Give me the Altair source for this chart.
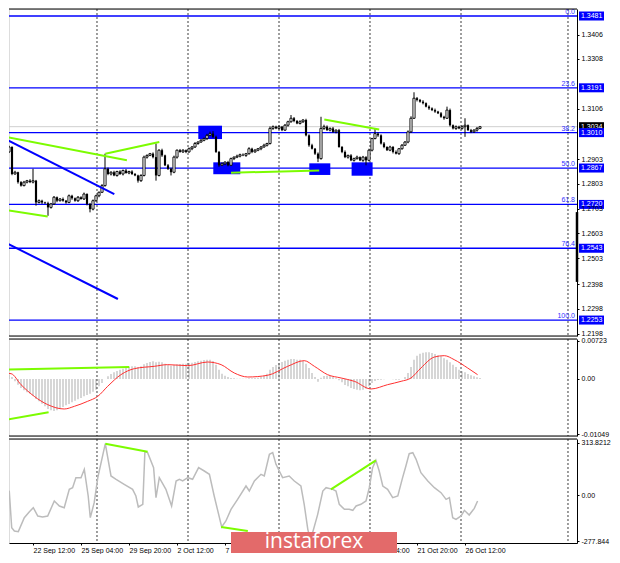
import altair as alt
import pandas as pd

# ---------------- layout ----------------
W = 568                      # plot width (px)
H1, H2, H3 = 327, 97, 104    # price / MACD / CCI panel heights
XDOM = [2, 2 + W / 3]        # visible bar-index range (3 px per bar)
FONT = "Liberation Sans"

# ---------------- data: GBPUSD H4 candles ----------------
first_open = 1.2975
closes = [
    1.2966, 1.2932, 1.2952, 1.2843, 1.2850, 1.2810, 1.2796, 1.2810, 1.2816, 1.2810,
    1.2816, 1.2728, 1.2735, 1.2728, 1.2725, 1.2708, 1.2722, 1.2749, 1.2735, 1.2742,
    1.2735, 1.2728, 1.2755, 1.2745, 1.2735, 1.2749, 1.2742, 1.2762, 1.2722, 1.2701,
    1.2735, 1.2755, 1.2769, 1.2796, 1.2864, 1.2843, 1.2850, 1.2837, 1.2853, 1.2843,
    1.2857, 1.2847, 1.2853, 1.2843, 1.2837, 1.2816, 1.2837, 1.2911, 1.2918, 1.2925,
    1.2911, 1.2837, 1.2939, 1.2918, 1.2878, 1.2864, 1.2850, 1.2911, 1.2939, 1.2932,
    1.2939, 1.2932, 1.2945, 1.2952, 1.2966, 1.2972, 1.2979, 1.2986, 1.2999, 1.3006,
    1.2993, 1.2932, 1.2878, 1.2884, 1.2891, 1.2878, 1.2905, 1.2911, 1.2915, 1.2921,
    1.2918, 1.2925, 1.2945, 1.2932, 1.2939, 1.2945, 1.2952, 1.2959, 1.2966, 1.3027,
    1.3034, 1.3027, 1.3034, 1.3020, 1.3040, 1.3054, 1.3068, 1.3057, 1.3047, 1.3054,
    1.3061, 1.2999, 1.2959, 1.2945, 1.2925, 1.2905, 1.3027, 1.3034, 1.3020, 1.3027,
    1.3013, 1.3020, 1.2952, 1.2932, 1.2911, 1.2918, 1.2898, 1.2905, 1.2911, 1.2898,
    1.2911, 1.2898, 1.2939, 1.2986, 1.3006, 1.2999, 1.2966, 1.2952, 1.2939, 1.2952,
    1.2932, 1.2925, 1.2945, 1.2959, 1.2972, 1.3013, 1.3068, 1.3149, 1.3142, 1.3135,
    1.3129, 1.3115, 1.3108, 1.3101, 1.3095, 1.3088, 1.3074, 1.3068, 1.3101, 1.3040,
    1.3027, 1.3034, 1.3027, 1.3034, 1.3040, 1.3020, 1.3013, 1.3020, 1.3027, 1.3034,
]
up_wick_pips = [
    4, 2, 5, 3, 6, 2, 4, 5, 3, 6,
    48, 3, 5, 4, 3, 6, 4, 5, 3, 4,
    6, 3, 5, 4, 3, 5, 4, 6, 3, 4,
    5, 4, 3, 6, 61, 5, 4, 6, 3, 5,
    4, 6, 3, 5, 4, 3, 5, 6, 4, 3,
    5, 55, 4, 6, 3, 5, 4, 6, 3, 5,
    4, 3, 5, 4, 6, 3, 5, 4, 6, 8,
    10, 5, 4, 6, 3, 5, 4, 3, 6, 4,
    5, 3, 6, 4, 5, 3, 4, 6, 3, 8,
    5, 4, 6, 3, 5, 4, 13, 5, 4, 6,
    3, 5, 4, 6, 3, 5, 47, 8, 5, 4,
    6, 3, 5, 4, 6, 3, 5, 4, 6, 3,
    5, 4, 6, 3, 21, 5, 4, 6, 3, 5,
    4, 6, 3, 5, 4, 6, 8, 24, 5, 4,
    6, 3, 5, 4, 6, 3, 5, 4, 14, 6,
    3, 5, 4, 6, 28, 3, 5, 4, 6, 3,
]
dn_wick_pips = [
    3, 21, 4, 5, 3, 6, 4, 3, 5, 4,
    5, 13, 4, 6, 3, 34, 5, 4, 6, 3,
    4, 5, 3, 6, 4, 5, 3, 4, 6, 13,
    5, 4, 6, 3, 4, 5, 6, 3, 5, 4,
    6, 3, 5, 4, 3, 8, 5, 4, 6, 3,
    5, 21, 4, 6, 3, 5, 13, 4, 6, 3,
    4, 5, 3, 6, 4, 5, 3, 4, 6, 3,
    5, 4, 6, 3, 5, 4, 3, 6, 4, 5,
    3, 6, 4, 5, 3, 4, 6, 3, 5, 4,
    6, 3, 5, 4, 3, 6, 4, 5, 3, 4,
    5, 4, 6, 3, 5, 14, 4, 6, 3, 5,
    4, 6, 3, 5, 4, 6, 3, 5, 4, 3,
    6, 20, 4, 5, 3, 6, 4, 5, 3, 4,
    6, 3, 5, 4, 3, 5, 4, 3, 6, 4,
    5, 3, 6, 4, 5, 3, 4, 6, 3, 5,
    4, 6, 3, 5, 41, 3, 5, 4, 6, 3,
]

# ---------------- data: MACD (values x 1e-4) ----------------
macd_hist_e4 = [
    10.1, 9.5, 8.2, 3.8, -4.4, -10.8, -17.1, -21.6, -25.4, -27.9,
    -31.7, -38.0, -42.5, -46.9, -52.0, -57.1, -59.6, -60.9, -59.6, -57.1,
    -53.3, -50.1, -47.6, -44.4, -41.2, -38.7, -36.1, -33.0, -30.4, -27.9,
    -24.1, -20.3, -13.9, -7.6, 0.0, 5.1, 9.5, 12.7, 15.2, 17.8,
    19.7, 20.9, 22.8, 24.1, 24.1, 22.8, 24.1, 27.9, 30.4, 32.3,
    33.6, 31.7, 33.0, 31.7, 29.2, 26.6, 25.4, 26.6, 27.9, 28.5,
    29.2, 29.2, 30.4, 31.1, 32.3, 33.6, 34.9, 36.1, 36.8, 36.8,
    34.2, 27.3, 17.8, 10.1, 6.3, 3.8, 1.9, 1.3, 0.6, 0.6,
    0.6, 0.6, 1.3, 1.3, 1.9, 2.5, 3.8, 6.3, 10.1, 17.8,
    22.8, 26.6, 30.4, 32.3, 34.9, 36.8, 38.0, 38.0, 36.8, 36.8,
    34.2, 29.2, 20.9, 11.4, 3.8, -5.1, 2.5, 5.7, 6.3, 5.7,
    3.8, 1.3, -2.5, -6.3, -11.4, -13.9, -17.1, -19.0, -20.3, -21.6,
    -20.3, -18.4, -13.9, -7.6, -3.8, -1.9, -1.3, -0.6, 0.0, 0.0,
    -0.6, -1.3, -1.3, 0.0, 3.8, 11.4, 22.8, 36.8, 44.4, 48.2,
    50.1, 50.7, 50.7, 49.5, 47.6, 45.0, 43.1, 39.3, 36.8, 31.7,
    27.3, 22.8, 17.8, 14.6, 12.7, 9.5, 7.0, 5.1, 3.2, 1.9,
]
signal_bar = [0, 2.7, 6.0, 10.4, 14.9, 20.4, 23.8, 28.2, 31.6, 34.9,
              39.3, 43.8, 50.4, 54.9, 61.6, 68.2, 72.7, 77.1, 81.6, 88.2,
              94.9, 100.4, 103.8, 108.2, 112.7, 117.1, 122.7, 128.2, 132.7, 136.0,
              139.3, 143.8, 147.1, 150.4, 154.9, 158.2]
signal_e4 = [11.4, 10.1, -10.8, -33.0, -48.8, -57.1, -52.0, -42.5, -33.0, -13.9,
             8.2, 19.7, 24.1, 27.3, 25.4, 32.3, 27.3, 11.4, 3.8, 7.0,
             24.1, 34.9, 24.1, 8.2, 1.9, -4.4, -19.0, -10.8, -4.4, 1.9,
             20.9, 41.8, 44.4, 36.8, 20.9, 8.2]

# ---------------- data: CCI ----------------
cci_bar = [-0.7, 0.2, 1.6, 2.1, 2.9, 3.8, 5.1, 7.1, 8.8, 10.1,
           11.6, 13.2, 14.9, 17.1, 18.8, 20.4, 22.1, 23.2, 24.3, 26.0,
           27.1, 28.4, 29.1, 30.4, 31.6, 34.1, 36.0, 37.7, 40.4, 43.2,
           44.3, 45.1, 46.6, 47.3, 48.2, 50.2, 51.0, 52.1, 54.3, 56.2,
           57.7, 58.8, 59.9, 61.6, 63.2, 65.2, 67.1, 68.8, 70.4, 72.9,
           74.3, 76.0, 78.2, 81.0, 82.1, 83.8, 86.0, 87.1, 88.8, 89.9,
           91.0, 92.1, 93.2, 95.4, 97.1, 99.3, 100.4, 101.6, 102.3, 103.2,
           104.9, 106.6, 107.7, 109.9, 111.0, 112.1, 113.8, 115.4, 116.6, 117.7,
           119.3, 121.0, 122.1, 123.2, 124.3, 125.4, 126.6, 128.2, 129.9, 131.6,
           133.2, 134.3, 135.4, 136.6, 137.7, 139.3, 141.6, 143.8, 146.0, 147.7,
           148.8, 149.9, 151.0, 152.7, 153.8, 155.4, 157.1, 158.2]
cci_val = [-16, -96, 14, 20, -196, -216, -220, -136, -100, -76,
           -126, -132, -126, -36, -66, -76, 34, 44, 104, 104,
           154, -6, -136, -46, 104, 308, 114, 94, 64, 34,
           -6, -72, -56, 260, 254, 164, -16, 104, 34, -66,
           84, 94, 84, 104, 94, 164, 144, 124, -6, -192,
           -156, -86, -26, 54, 24, 84, 124, 114, 244, 254,
           184, 144, 104, 114, 84, 54, -56, -206, -256, -226,
           -116, 24, 44, 34, 24, -56, -86, -86, -92, -66,
           -56, -36, 44, 164, 208, 144, 54, 34, -16, -6,
           104, 174, 248, 254, 214, 134, 84, 44, 14, -26,
           -16, -136, -146, -126, -92, -120, -80, -36]

# ---------------- levels, ticks, drawings ----------------
fib_prices = [1.3481, 1.3191, 1.3010, 1.2867, 1.2720, 1.2543, 1.2253]
fib_names = ["0.0", "23.6", "38.2", "50.0", "61.8", "76.4", "100.0"]
price_ticks = [1.3406, 1.3308, 1.3106, 1.2903, 1.2803, 1.2703,
               1.2603, 1.2503, 1.2398, 1.2298, 1.2198]
current_price = 1.3034
range_marker = (1.2689, 1.2407)
macd_ticks = [0.00723, 0.0, -0.01049]
cci_ticks = [313.8212, 0.0, -277.844]

grid_bars = [1.0, 31.33, 61.67, 92.0, 122.33, 152.67, 188.33]
time_bars = [10, 26, 42, 58, 74, 122, 138, 154]
time_labels = ["22 Sep 12:00", "25 Sep 04:00", "29 Sep 20:00", "2 Oct 12:00",
               "7 Oct 04:00", "19 Oct 04:00", "21 Oct 20:00", "26 Oct 12:00"]

green_main = [((-0.67, 1.2997), (41.3, 1.2898)),
              ((34.1, 1.2925), (52.1, 1.2972)),
              ((-0.67, 1.2701), (14.9, 1.2671)),
              ((76.0, 1.2848), (105.4, 1.2857)),
              ((107.1, 1.3063), (125.4, 1.3023))]
blue_main = [((-0.67, 1.2993), (37.1, 1.2762)),
             ((-0.67, 1.2575), (38.3, 1.2338))]
zones = [(65.1, 73.0, 1.3038, 1.2984),
         (70.1, 79.1, 1.2890, 1.2842),
         (102.1, 109.1, 1.2886, 1.2839),
         (116.2, 123.2, 1.2890, 1.2836)]
green_macd = [((-0.67, 0.00178), (42.1, 0.00228)),
              ((-0.67, -0.00793), (15.2, -0.00634))]
green_cci = [((34.1, 308), (48.2, 260)),
             ((109.3, 34), (124.3, 208)),
             ((72.7, -192), (81.6, -216))]

# ---------------- frames ----------------
opens = [first_open] + closes[:-1]
candles = pd.DataFrame({
    "i": list(range(len(closes))),
    "o": opens,
    "c": closes,
    "hi": [max(o, c) + u * 1e-4 for o, c, u in zip(opens, closes, up_wick_pips)],
    "lo": [min(o, c) - d * 1e-4 for o, c, d in zip(opens, closes, dn_wick_pips)],
})
candles["b0"] = candles["i"] - 0.36
candles["b1"] = candles["i"] + 0.36
bull = candles[candles["c"] >= candles["o"]]
bear = candles[candles["c"] < candles["o"]]


def seg_df(segs):
    rows = []
    for k, (a, b) in enumerate(segs):
        rows.append({"seg": k, "i": a[0], "v": a[1]})
        rows.append({"seg": k, "i": b[0], "v": b[1]})
    return pd.DataFrame(rows)


grid_df = pd.DataFrame({"g": grid_bars})
fib_df = pd.DataFrame({"p": fib_prices, "name": fib_names,
                       "lab": [f"{p:.4f}" for p in fib_prices]})
cur_df = pd.DataFrame({"p": [current_price], "lab": [f"{current_price:.4f}"]})
zone_df = pd.DataFrame(zones, columns=["x0", "x1", "y0", "y1"])
rng_df = pd.DataFrame({"a": [range_marker[0]], "b": [range_marker[1]]})
macd_df = pd.DataFrame({"i": list(range(len(macd_hist_e4))),
                        "h": [v * 1e-4 for v in macd_hist_e4]})
macd_df["z"] = 0.0
sig_df = pd.DataFrame({"i": signal_bar, "v": [v * 1e-4 for v in signal_e4]})
cci_df = pd.DataFrame({"i": cci_bar, "v": cci_val})
one = pd.DataFrame({"k": [0]})

# ---------------- scales & axes ----------------
xs = alt.Scale(domain=XDOM, nice=False, zero=False)
ys_main = alt.Scale(domain=[1.21886, 1.35093], nice=False, zero=False)
ys_macd = alt.Scale(domain=[-0.01085, 0.00761], nice=False, zero=False)
ys_cci = alt.Scale(domain=[-288, 336], nice=False, zero=False)

num_expr = "datum.value == 0 ? '0.00' : '' + datum.value"


def right_axis(values, fmt=None, expr=None):
    kw = dict(orient="right", values=values, tickSize=2, labelPadding=2,
              labelFontSize=7, labelFont=FONT, labelColor="#000",
              tickColor="#000", domainColor="#000", grid=False, title=None,
              labelFlush=False, labelOverlap=False, zindex=1)
    if fmt:
        kw["format"] = fmt
    if expr:
        kw["labelExpr"] = expr
    return alt.Axis(**kw)


ax_main = right_axis(price_ticks, fmt=".4f")
ax_macd = right_axis(macd_ticks, expr=num_expr)
ax_cci = right_axis(cci_ticks, expr=num_expr)

time_expr = "[" + ",".join("'" + s + "'" for s in time_labels) + "][indexof([" + \
    ",".join(str(b) for b in time_bars) + "], datum.value)]"
ax_time = alt.Axis(values=time_bars, labelExpr=time_expr, orient="bottom", tickSize=2,
                   labelPadding=1, labelFontSize=7, labelFont=FONT, labelColor="#000",
                   labelAlign="left", labelBaseline="top", domainColor="#000",
                   tickColor="#000", grid=False, title=None, labelFlush=False,
                   labelOverlap=False, zindex=0)
ax_none_x = alt.Axis(values=time_bars, labels=False, ticks=False, domain=False,
                     grid=False, title=None)


def X(f, ax):
    return alt.X(f, type="quantitative", scale=xs, axis=ax)


def Y(f, sc, ax):
    return alt.Y(f, type="quantitative", scale=sc, axis=ax)


def grid_layer(ax):
    return alt.Chart(grid_df).mark_rule(
        strokeDash=[2, 2], color="#3c3c3c", strokeWidth=1, clip=True
    ).encode(x=X("g", ax))


def border(y):
    return alt.Chart(one).mark_rule(color="#000", strokeWidth=1).encode(
        x=alt.value(0), x2=alt.value(W), y=alt.value(y))


# ---------------- price panel ----------------
xm = ax_none_x
fib_rules = alt.Chart(fib_df).mark_rule(color="#0000ff", strokeWidth=1.3, clip=True).encode(
    y=Y("p", ys_main, ax_main))
cur_rule = alt.Chart(cur_df).mark_rule(color="#cfcfcf", strokeWidth=1, clip=True).encode(
    y=Y("p", ys_main, ax_main))
zone_l = alt.Chart(zone_df).mark_rect(color="#0000ff", clip=True).encode(
    x=X("x0", xm), x2="x1", y=Y("y0", ys_main, ax_main), y2="y1")
wicks = alt.Chart(candles).mark_rule(color="#000", strokeWidth=1, clip=True).encode(
    x=X("i", xm), y=Y("lo", ys_main, ax_main), y2="hi")
bull_l = alt.Chart(bull).mark_rect(fill="#ffffff", stroke="#000", strokeWidth=0.9, clip=True).encode(
    x=X("b0", xm), x2="b1", y=Y("o", ys_main, ax_main), y2="c")
bear_l = alt.Chart(bear).mark_rect(color="#000", clip=True).encode(
    x=X("b0", xm), x2="b1", y=Y("o", ys_main, ax_main), y2="c")
blue_l = alt.Chart(seg_df(blue_main)).mark_line(color="#0000ff", strokeWidth=2, clip=True).encode(
    x=X("i", xm), y=Y("v", ys_main, ax_main), detail="seg:N")
green_l = alt.Chart(seg_df(green_main)).mark_line(color="#7cfc00", strokeWidth=2, clip=True).encode(
    x=X("i", xm), y=Y("v", ys_main, ax_main), detail="seg:N")
fib_txt = alt.Chart(fib_df).mark_text(
    align="right", baseline="bottom", dy=-1, color="#3030ff", fontSize=7, font=FONT, clip=True
).encode(x=alt.value(W - 2), y=Y("p", ys_main, ax_main), text="name:N")
cur_box = alt.Chart(cur_df).mark_rect(color="#000", yOffset=-4.5, y2Offset=4.5).encode(
    x=alt.value(W + 2), x2=alt.value(W + 27), y=Y("p", ys_main, ax_main), y2="p")
cur_txt = alt.Chart(cur_df).mark_text(
    align="left", baseline="middle", color="#fff", fontSize=7, font=FONT
).encode(x=alt.value(W + 4), y=Y("p", ys_main, ax_main), text="lab:N")
fib_box = alt.Chart(fib_df).mark_rect(color="#0000ff", yOffset=-4.5, y2Offset=4.5).encode(
    x=alt.value(W + 2), x2=alt.value(W + 27), y=Y("p", ys_main, ax_main), y2="p")
fib_box_txt = alt.Chart(fib_df).mark_text(
    align="left", baseline="middle", color="#fff", fontSize=7, font=FONT
).encode(x=alt.value(W + 4), y=Y("p", ys_main, ax_main), text="lab:N")
rng_l = alt.Chart(rng_df).mark_rule(color="#000", strokeWidth=2.5).encode(
    x=alt.value(W), y=Y("a", ys_main, ax_main), y2="b")

main = alt.layer(
    fib_rules, grid_layer(xm), cur_rule, zone_l, wicks, bull_l, bear_l, blue_l, green_l,
    fib_txt, cur_box, cur_txt, fib_box, fib_box_txt, rng_l, border(0), border(H1)
).properties(width=W, height=H1)

# ---------------- MACD panel ----------------
hist_l = alt.Chart(macd_df).mark_rule(color="#c0c0c0", strokeWidth=1.3, clip=True).encode(
    x=X("i", xm), y=Y("h", ys_macd, ax_macd), y2="z")
sig_l = alt.Chart(sig_df).mark_line(color="#ff3030", strokeWidth=1, interpolate="monotone", clip=True).encode(
    x=X("i", xm), y=Y("v", ys_macd, ax_macd))
gm_l = alt.Chart(seg_df(green_macd)).mark_line(color="#7cfc00", strokeWidth=2, clip=True).encode(
    x=X("i", xm), y=Y("v", ys_macd, ax_macd), detail="seg:N")
macd = alt.layer(hist_l, grid_layer(xm), sig_l, gm_l, border(0), border(H2)).properties(width=W, height=H2)

# ---------------- CCI panel ----------------
cci_l = alt.Chart(cci_df).mark_line(color="#bcbcbc", strokeWidth=1.5, clip=True).encode(
    x=X("i", ax_time), y=Y("v", ys_cci, ax_cci))
gc_l = alt.Chart(seg_df(green_cci)).mark_line(color="#7cfc00", strokeWidth=2, clip=True).encode(
    x=X("i", ax_time), y=Y("v", ys_cci, ax_cci), detail="seg:N")
logo_box = alt.Chart(one).mark_rect(color="#e36a6a").encode(
    x=alt.value(222), x2=alt.value(388), y=alt.value(93), y2=alt.value(114))
logo_txt = alt.Chart(one).mark_text(
    color="#ffffff", fontSize=21, font="Open Sans", align="center", baseline="middle"
).encode(x=alt.value(305), y=alt.value(103), text=alt.value("instaforex"))
cci = alt.layer(grid_layer(ax_time), cci_l, gc_l, border(0), logo_box, logo_txt).properties(width=W, height=H3)

chart = alt.vconcat(main, macd, cci, spacing=3, bounds="flush").properties(
    padding=0, background="#ffffff"
).configure_view(stroke=None).configure(font=FONT)

chart.save("out.html", embed_options={"renderer": "svg", "actions": False})
